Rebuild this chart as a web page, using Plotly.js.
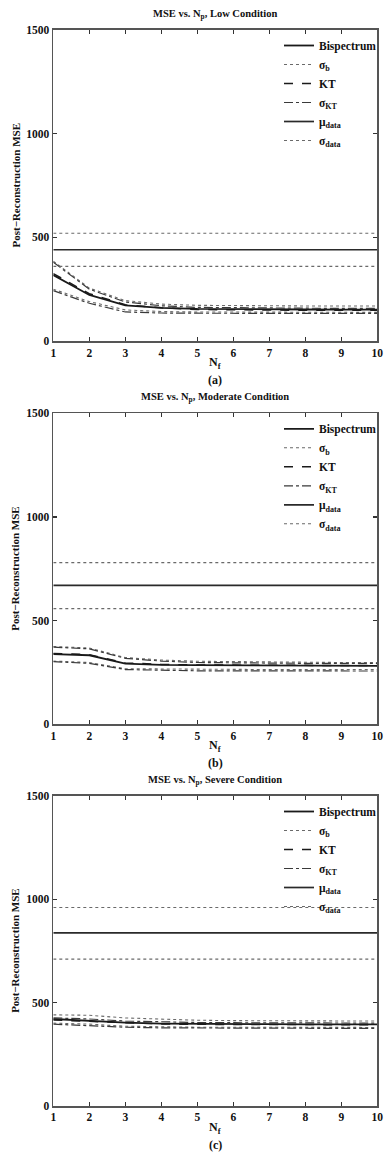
<!DOCTYPE html>
<html>
<head>
<meta charset="utf-8">
<script src="https://cdn.plot.ly/plotly-3.0.1.min.js"></script>
<style>html,body{margin:0;padding:0;background:#fff;}#chart{width:385px;height:1152px;}</style>
</head>
<body>
<div id="chart"></div>
<script>
// ---- data ----
const Nf = [1, 2, 3, 4, 5, 6, 7, 8, 9, 10];

// (a) Low condition
const lowBisp    = [318, 222, 172, 160, 155, 153, 152, 152, 151, 151];
const lowSigBHi  = [385, 255, 195, 178, 172, 170, 169, 169, 169, 169];
const lowSigBLo  = [250, 190, 150, 142, 140, 139, 138, 138, 138, 138];
const lowKT      = [325, 228, 175, 160, 152, 150, 149, 148, 148, 148];
const lowSigKHi  = [380, 250, 188, 170, 162, 160, 158, 158, 157, 157];
const lowSigKLo  = [243, 182, 140, 135, 134, 133, 133, 133, 133, 133];
const lowMu      = [440, 440, 440, 440, 440, 440, 440, 440, 440, 440];
const lowSigDHi  = [520, 520, 520, 520, 520, 520, 520, 520, 520, 520];
const lowSigDLo  = [360, 360, 360, 360, 360, 360, 360, 360, 360, 360];

// (b) Moderate condition
const modBisp    = [338, 333, 293, 287, 285, 284, 283, 283, 282, 282];
const modSigBHi  = [375, 368, 322, 310, 304, 302, 300, 299, 298, 298];
const modSigBLo  = [305, 298, 268, 266, 265, 265, 264, 264, 264, 264];
const modKT      = [342, 336, 296, 289, 286, 285, 284, 283, 283, 283];
const modSigKHi  = [372, 364, 318, 305, 298, 296, 295, 294, 294, 294];
const modSigKLo  = [302, 294, 264, 260, 258, 258, 257, 257, 257, 257];
const modMu      = [670, 670, 670, 670, 670, 670, 670, 670, 670, 670];
const modSigDHi  = [780, 780, 780, 780, 780, 780, 780, 780, 780, 780];
const modSigDLo  = [558, 558, 558, 558, 558, 558, 558, 558, 558, 558];

// (c) Severe condition
const sevBisp    = [420, 412, 402, 398, 396, 395, 395, 394, 394, 394];
const sevSigBHi  = [440, 438, 425, 418, 414, 412, 411, 410, 410, 410];
const sevSigBLo  = [400, 395, 385, 382, 380, 380, 379, 379, 379, 379];
const sevKT      = [415, 408, 400, 396, 394, 393, 393, 392, 392, 392];
const sevSigKHi  = [425, 420, 410, 405, 403, 402, 401, 401, 400, 400];
const sevSigKLo  = [395, 388, 380, 377, 376, 375, 375, 375, 374, 374];
const sevMu      = [837, 837, 837, 837, 837, 837, 837, 837, 837, 837];
const sevSigDHi  = [960, 960, 960, 960, 960, 960, 960, 960, 960, 960];
const sevSigDLo  = [710, 710, 710, 710, 710, 710, 710, 710, 710, 710];

const seriesNames = ['Bispectrum', 'σ<sub>b</sub>', 'KT', 'σ<sub>KT</sub>', 'μ<sub>data</sub>', 'σ<sub>data</sub>'];
const titles = ['MSE vs. N<sub>p</sub>, Low Condition', 'MSE vs. N<sub>p</sub>, Moderate Condition', 'MSE vs. N<sub>p</sub>, Severe Condition'];
const panelLabels = ['(a)', '(b)', '(c)'];
const xTicks = [1, 2, 3, 4, 5, 6, 7, 8, 9, 10];
const yTicks = [0, 500, 1000, 1500];

const panels = [
  [lowBisp, lowSigBHi, lowSigBLo, lowKT, lowSigKHi, lowSigKLo, lowMu, lowSigDHi, lowSigDLo],
  [modBisp, modSigBHi, modSigBLo, modKT, modSigKHi, modSigKLo, modMu, modSigDHi, modSigDLo],
  [sevBisp, sevSigBHi, sevSigBLo, sevKT, sevSigKHi, sevSigKLo, sevMu, sevSigDHi, sevSigDLo]
];

// ---- styling / layout ----
const W = 385, H = 1152;
const FONT = 'Liberation Serif, Times New Roman, serif';
const plotBoxes = [[30, 341], [413.3, 724.3], [796, 1105.7]];
const xL = 53.3, xR = 377.3;
const fy = p => 1 - p / H;
const bold = s => '<b>' + s + '</b>';

const styles = [
  {name: 0, dash: 'solid',   width: 1.8, color: '#1a1a1a'},
  {name: 1, dash: 'dot',     width: 1.1, color: '#6a6a6a'},
  {name: 1, dash: 'dot',     width: 1.1, color: '#6a6a6a'},
  {name: 2, dash: 'dash',    width: 1.5, color: '#1a1a1a'},
  {name: 3, dash: 'dashdot', width: 1.2, color: '#3a3a3a'},
  {name: 3, dash: 'dashdot', width: 1.2, color: '#3a3a3a'},
  {name: 4, dash: 'solid',   width: 1.7, color: '#2a2a2a'},
  {name: 5, dash: 'dot',     width: 1.1, color: '#6a6a6a'},
  {name: 5, dash: 'dot',     width: 1.1, color: '#6a6a6a'}
];

const traces = [];
const layout = {
  width: W, height: H,
  margin: {l: 0, r: 0, t: 0, b: 0},
  paper_bgcolor: '#fff', plot_bgcolor: '#fff',
  font: {family: FONT, size: 11, color: '#111'},
  showlegend: true,
  annotations: []
};

panels.forEach((series, i) => {
  const sfx = i === 0 ? '' : String(i + 1);
  const legendId = 'legend' + sfx;
  const shown = {};
  series.forEach((ys, j) => {
    const st = styles[j];
    const first = !shown[st.name];
    shown[st.name] = true;
    traces.push({
      x: Nf, y: ys, type: 'scatter', mode: 'lines',
      name: seriesNames[st.name],
      legendgroup: 'g' + i + '_' + st.name,
      showlegend: first,
      legend: legendId,
      line: {dash: st.dash, width: st.width, color: st.color},
      xaxis: 'x' + sfx, yaxis: 'y' + sfx,
      hoverinfo: 'skip'
    });
  });
  const [top, bot] = plotBoxes[i];
  const tickFont = {family: FONT, size: 11.5, color: '#111', weight: 'bold'};
  layout['xaxis' + sfx] = {
    domain: [xL / W, xR / W], anchor: 'y' + sfx,
    range: [1, 10], tickvals: xTicks, ticks: 'inside', ticklen: 4, tickwidth: 1.2,
    tickcolor: '#333', showline: true, linecolor: '#555', linewidth: 1.8, mirror: 'ticks',
    showgrid: false, zeroline: false, tickfont: tickFont
  };
  layout['yaxis' + sfx] = {
    domain: [fy(bot), fy(top)], anchor: 'x' + sfx,
    range: [0, 1500], tickvals: yTicks, ticks: 'inside', ticklen: 4, tickwidth: 1.2,
    tickcolor: '#333', showline: true, linecolor: '#555', linewidth: 1.8, mirror: 'ticks',
    showgrid: false, zeroline: false, tickfont: tickFont
  };
  layout[legendId] = {
    x: 279 / W, y: fy(top + 1), xanchor: 'left', yanchor: 'top',
    bgcolor: 'rgba(255,255,255,0)', borderwidth: 0,
    font: {family: FONT, size: 11.5, color: '#111', weight: 'bold'},
    itemwidth: 30, tracegroupgap: 0
  };
  layout.annotations.push(
    {text: titles[i], xref: 'paper', yref: 'paper', x: (xL + xR) / 2 / W, y: fy(top - 16),
     showarrow: false, xanchor: 'center', yanchor: 'middle', font: {family: FONT, size: 10.5, color: '#111', weight: 'bold'}},
    {text: 'Post−Reconstruction MSE', xref: 'paper', yref: 'paper', x: 15 / W, y: fy((top + bot) / 2),
     textangle: -90, showarrow: false, xanchor: 'center', yanchor: 'middle', font: {family: FONT, size: 11, color: '#111', weight: 'bold'}},
    {text: 'N<sub>f</sub>', xref: 'paper', yref: 'paper', x: (xL + xR) / 2 / W, y: fy(bot + 22),
     showarrow: false, xanchor: 'center', yanchor: 'middle', font: {family: FONT, size: 12, color: '#111', weight: 'bold'}},
    {text: panelLabels[i], xref: 'paper', yref: 'paper', x: (xL + xR) / 2 / W, y: fy(bot + 39),
     showarrow: false, xanchor: 'center', yanchor: 'middle', font: {family: FONT, size: 12, color: '#111', weight: 'bold'}}
  );
});

Plotly.newPlot('chart', traces, layout, {staticPlot: true, displayModeBar: false});
</script>
</body>
</html>
